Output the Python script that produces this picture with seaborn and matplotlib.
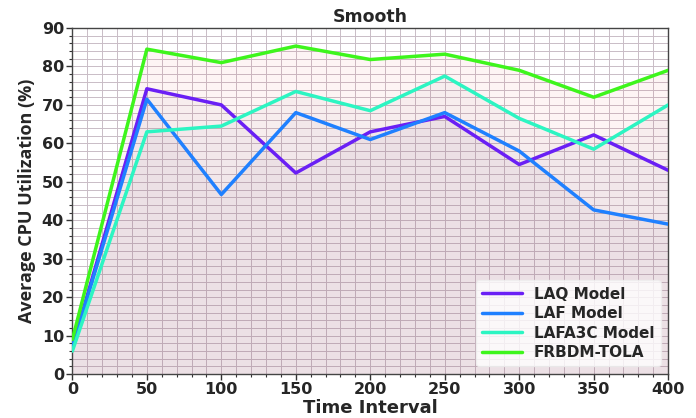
import numpy as np
import pandas as pd
import matplotlib
matplotlib.use("Agg")
import matplotlib.pyplot as plt
import seaborn as sns
from matplotlib.ticker import MultipleLocator

time_interval = [0, 50, 100, 150, 200, 250, 300, 350, 400]
laq_model = [7, 74.2, 70.0, 52.3, 63.0, 67.0, 54.5, 62.2, 53.0]
laf_model = [7, 71.5, 46.7, 68.0, 61.0, 68.0, 58.0, 42.7, 39.0]
lafa3c_model = [6, 63.0, 64.5, 73.5, 68.5, 77.5, 66.5, 58.5, 70.0]
frbdm_tola = [9, 84.5, 81.0, 85.3, 81.8, 83.2, 79.0, 72.0, 79.0]

series_names = ["LAQ Model", "LAF Model", "LAFA3C Model", "FRBDM-TOLA"]
series_values = [laq_model, laf_model, lafa3c_model, frbdm_tola]
line_colors = ["#6a1ff5", "#1f80ff", "#2cf5c2", "#3ef51c"]
fill_colors = ["#8a7a9a", "#8a7a9a", "#8a7a9a", "#e03030"]
fill_alphas = [0.05, 0.05, 0.05, 0.05]

df = pd.DataFrame({
    "Time Interval": np.tile(time_interval, len(series_names)),
    "value": np.concatenate(series_values),
    "Model": np.repeat(series_names, len(time_interval)),
})

sns.set_theme(style="white")
plt.rcParams["font.family"] = ["DejaVu Sans"]

fig, ax = plt.subplots(figsize=(6.96, 4.18), dpi=100)

# shaded area under each curve
for vals, fc, fa in zip(series_values, fill_colors, fill_alphas):
    ax.fill_between(time_interval, 0, vals, color=fc, alpha=fa, linewidth=0, zorder=1)

sns.lineplot(data=df, x="Time Interval", y="value", hue="Model",
             hue_order=series_names, palette=line_colors, linewidth=2.5,
             ax=ax, zorder=3)

ax.set_xlim(0, 400)
ax.set_ylim(0, 90)
ax.xaxis.set_major_locator(MultipleLocator(50))
ax.xaxis.set_minor_locator(MultipleLocator(10))
ax.yaxis.set_major_locator(MultipleLocator(10))
ax.yaxis.set_minor_locator(MultipleLocator(2))

ax.grid(which="both", color="#c9bcc6", linewidth=0.7, zorder=0)
ax.set_axisbelow(True)

ax.tick_params(axis="both", which="major", direction="out", length=4, width=1,
               color="#333333", labelsize=11.5, bottom=True, left=True, pad=2)
ax.tick_params(axis="both", which="minor", direction="out", length=2, width=0.8,
               color="#333333", bottom=True, left=True)
for lab in ax.get_xticklabels() + ax.get_yticklabels():
    lab.set_fontweight("bold")

for sp in ax.spines.values():
    sp.set_color("#444444")
    sp.set_linewidth(1.0)

ax.set_title("Smooth", fontsize=12.5, fontweight="bold", pad=4)
ax.set_xlabel("Time Interval", fontsize=13, fontweight="bold", labelpad=1)
ax.set_ylabel("Average CPU Utilization (%)", fontsize=13, fontweight="bold",
              family=["Open Sans", "DejaVu Sans"], labelpad=4)

leg = ax.legend(loc="lower right", prop={"weight": "bold", "size": 11},
                frameon=True, framealpha=0.8, edgecolor="#eeeeee",
                handlelength=2.6, borderpad=0.4, labelspacing=0.3)
leg.get_frame().set_facecolor("white")

fig.subplots_adjust(left=0.104, right=0.96, top=0.933, bottom=0.105)
fig.savefig("out.png", dpi=100)
